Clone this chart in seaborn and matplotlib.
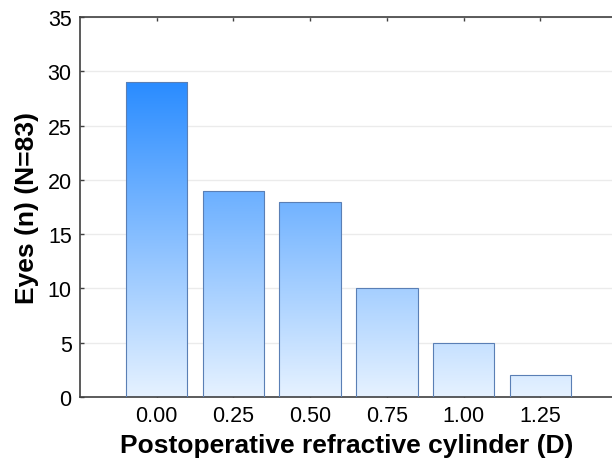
import matplotlib
matplotlib.use("Agg")
import matplotlib.pyplot as plt
import seaborn as sns
import numpy as np
import pandas as pd
from matplotlib.colors import LinearSegmentedColormap

categories = ["0.00", "0.25", "0.50", "0.75", "1.00", "1.25"]
eyes = [29, 19, 18, 10, 5, 2]
y_ticks = [0, 5, 10, 15, 20, 25, 30, 35]

sns.set_theme(style="white")
plt.rcParams['font.family'] = ['Liberation Sans', 'DejaVu Sans']

df = pd.DataFrame({"cyl": categories, "n": eyes})

fig = plt.figure(figsize=(6.12, 4.6), dpi=100)
ax = fig.add_axes([80/612, 62/460, 1 - 80/612 + 0.002, (398-18)/460])

sns.barplot(data=df, x="cyl", y="n", ax=ax, width=0.8, color="#2a8cff",
            edgecolor="#5a7fb5", linewidth=0.8, zorder=3)

cmap = LinearSegmentedColormap.from_list("g", ["#e6f2ff", "#2a8cff"])
ymax = max(eyes)
for p in ax.patches:
    x0, y0 = p.get_x(), p.get_y()
    w, h = p.get_width(), p.get_height()
    grad = np.linspace(0, h / ymax, 256).reshape(-1, 1)
    im = ax.imshow(grad, extent=[x0, x0 + w, 0, h], origin="lower",
                   cmap=cmap, vmin=0, vmax=1, aspect="auto", zorder=2.5)
    im.set_clip_path(p)
    p.set_facecolor("none")

ax.set_xlim(-1, 5.95)
ax.set_ylim(0, 35)
ax.set_yticks(y_ticks)
ax.yaxis.grid(True, color="#ebebeb", linewidth=1, zorder=0)
ax.set_axisbelow(True)

for s in ["left", "bottom", "top"]:
    ax.spines[s].set_visible(True)
    ax.spines[s].set_color("#404040")
    ax.spines[s].set_linewidth(1.2)
ax.spines["right"].set_visible(False)

ax.tick_params(axis="both", direction="in", length=3, width=1, color="#404040",
               labelsize=15.5, labelcolor="black", pad=6)
ax.tick_params(axis="x", top=True, bottom=True)
ax.tick_params(axis="y", left=True)

ax.set_xlabel("Postoperative refractive cylinder (D)", fontsize=19, fontweight="bold",
              labelpad=5, color="black")
ax.set_ylabel("Eyes (n) (N=83)", fontsize=19, fontweight="bold", labelpad=6, color="black")

fig.savefig("out.png", dpi=100)
